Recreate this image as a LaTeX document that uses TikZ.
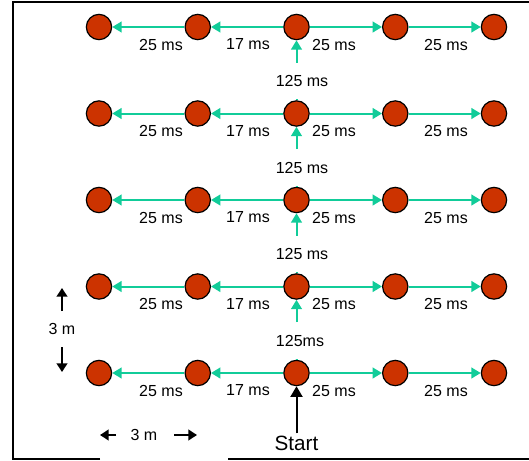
\documentclass[tikz,border=0pt]{standalone}
\usepackage{fontspec}
\setmainfont{Liberation Sans}
\usetikzlibrary{arrows.meta}
\definecolor{dotred}{HTML}{CC3300}
\definecolor{arrgreen}{HTML}{11CC99}
\begin{document}
\begin{tikzpicture}[x=0.75pt,y=-0.75pt,
  dot/.style={circle,draw=black,line width=0.9pt,fill=dotred,minimum size=19pt,inner sep=0pt},
  gline/.style={draw=arrgreen,line width=1.5pt},
  harr/.style={gline,-{Triangle[length=7pt,width=8pt]}},
  lbl/.style={font=\fontsize{12}{14}\selectfont,inner sep=0pt},
  vlbl/.style={lbl,fill=white,minimum height=27pt},
  blk/.style={line width=1.5pt,-{Triangle[length=6.5pt,width=8pt]}},
  frame/.style={line width=1.5pt},
]
\useasboundingbox (0,0) rectangle (529,461);
% frame
\coordinate (f1) at (100,459);
\coordinate (f2) at (12.5,459);
\coordinate (f3) at (12.5,2);
\coordinate (f4) at (529,2);
\coordinate (f5) at (228,459);
\coordinate (f6) at (529,459);
\draw[frame] (f1) -- (f2) -- (f3) -- (f4);
\draw[frame] (f5) -- (f6);
% dots, horizontal arrows, labels
\foreach \r/\y in {1/27,2/113.5,3/200,4/286.5,5/373}{
  \foreach \c/\x in {1/99,2/197.75,3/296.5,4/395.25,5/494}{
    \node[dot] (n\r\c) at (\x,\y) {};
  }
  \draw[harr] (n\r3) -- (n\r2);
  \draw[harr] (n\r2) -- (n\r1);
  \draw[harr] (n\r3) -- (n\r4);
  \draw[harr] (n\r4) -- (n\r5);
  \node[lbl] (la\r) at (161,{\y+17.5}) {25 ms};
  \node[lbl] (lb\r) at (248,{\y+17.5}) {17 ms};
  \node[lbl] (lc\r) at (334,{\y+17.5}) {25 ms};
  \node[lbl] (ld\r) at (446,{\y+17.5}) {25 ms};
}
% vertical arrows with labels
\foreach \r/\s/\y/\x/\t in {1/2/27/302/125 ms,2/3/113.5/302/125 ms,3/4/200/302/125 ms,4/5/286.5/300/125ms}{
  \node[vlbl] (v\r) at (\x,{\y+54}) {\t};
  \draw[gline] (n\s3) -- (v\r.south -| n\s3);
  \draw[harr] (v\r.north -| n\r3) -- (n\r3);
}
% start
\node[font=\fontsize{15.5}{18}\selectfont,inner sep=0pt] (start) at (296.5,443.5) {Start};
\draw[line width=1.5pt,-{Triangle[length=8pt,width=9pt]},shorten <=2pt] (start.north) -- (n53);
% 3 m vertical
\node[lbl] (vm) at (62,329) {3 m};
\coordinate (vu1) at (62,311);
\coordinate (vu2) at (62,288);
\coordinate (vd1) at (62,347);
\coordinate (vd2) at (62,372);
\draw[blk] (vu1) -- (vu2);
\draw[blk] (vd1) -- (vd2);
% 3 m horizontal
\node[lbl] (hm) at (144,435) {3 m};
\coordinate (hl1) at (116,435);
\coordinate (hl2) at (100,435);
\coordinate (hr1) at (174,435);
\coordinate (hr2) at (197,435);
\draw[blk] (hl1) -- (hl2);
\draw[blk] (hr1) -- (hr2);
\end{tikzpicture}
\end{document}
